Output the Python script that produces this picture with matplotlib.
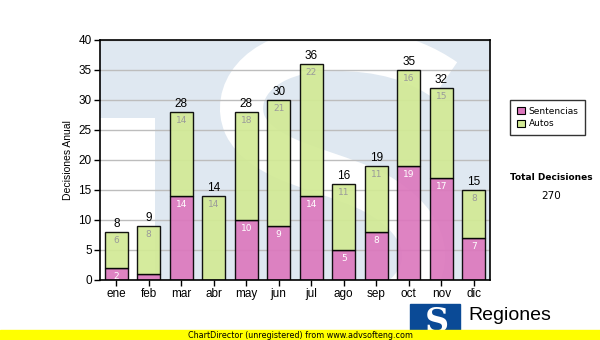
import matplotlib
matplotlib.use("Agg")
import matplotlib.pyplot as plt
import matplotlib.patches as mpatches
from matplotlib.path import Path
import numpy as np

months = ["ene", "feb", "mar", "abr", "may", "jun", "jul", "ago", "sep", "oct", "nov", "dic"]
sentencias = [2, 1, 14, 0, 10, 9, 14, 5, 8, 19, 17, 7]
autos = [6, 8, 14, 14, 18, 21, 22, 11, 11, 16, 15, 8]
yticks = [0, 5, 10, 15, 20, 25, 30, 35, 40]

W, H = 600, 340
fig = plt.figure(figsize=(W / 100, H / 100), dpi=100)
fig.patch.set_facecolor("white")

AX_L, AX_R, AX_T, AX_B = 100, 490, 40, 280
ax = fig.add_axes([AX_L / W, 1 - AX_B / H, (AX_R - AX_L) / W, (AX_B - AX_T) / H])
ax.set_facecolor("#dfe8f1")


def px2ax(px, py):
    return ((px - AX_L) / (AX_R - AX_L), (AX_B - py) / (AX_B - AX_T))


# watermark (approximate logo shapes): white gap under the T bar, white S stroke
ax.add_patch(mpatches.Rectangle((0, 0), 55 / 390, (280 - 118) / 240, transform=ax.transAxes,
                                color="white", zorder=0, lw=0))
pts_px = [(445, 80),
          (405, 52), (360, 48), (320, 50),
          (255, 55), (232, 95), (245, 125),
          (262, 160), (320, 168), (365, 188),
          (425, 215), (440, 262), (405, 295)]
codes = [Path.MOVETO] + [Path.CURVE4] * 12
verts = [px2ax(*p) for p in pts_px]
spath = Path(verts, codes)
ax.add_patch(mpatches.PathPatch(spath, transform=ax.transAxes, facecolor="none",
                                edgecolor="white", lw=31, capstyle="butt", zorder=0))

x = np.arange(len(months))
tot = [a + s for a, s in zip(autos, sentencias)]
ax.set_xlim(-0.5, len(months) - 0.5)
ax.set_ylim(0, 40)
ax.set_yticks(yticks)
ax.grid(axis="y", color="#bdbdbd", lw=1, zorder=1)
ax.set_axisbelow(True)

pink = "#dc78bd"
green = "#d2ea95"
ax.bar(x, sentencias, width=0.7, color=pink, edgecolor="black", lw=1, zorder=2, alpha=0.92)
ax.bar(x, autos, width=0.7, bottom=sentencias, color=green, edgecolor="black", lw=1, zorder=2, alpha=0.92)

for i in range(len(months)):
    ax.text(x[i], tot[i] + 0.3, str(tot[i]), ha="center", va="bottom", fontsize=8.5,
            family="Liberation Sans", color="black", zorder=3)
    if autos[i] > 0:
        ax.text(x[i], tot[i] - 0.6, str(autos[i]), ha="center", va="top", fontsize=6.5,
                family="DejaVu Sans", color="#9a9a9a", zorder=3)
    if sentencias[i] >= 2:
        ax.text(x[i], sentencias[i] - 0.6, str(sentencias[i]), ha="center", va="top", fontsize=6.5,
                family="DejaVu Sans", color="white", zorder=3)

ax.set_xticks(x)
ax.set_xticklabels(months, family="Liberation Sans", fontsize=8.5)
ax.set_yticklabels([str(v) for v in yticks], family="Liberation Sans", fontsize=8.5)
ax.tick_params(axis="both", length=4, width=1, color="black", pad=2)
for s in ax.spines.values():
    s.set_linewidth(1.2)
    s.set_color("black")
ax.set_ylabel("Decisiones Anual", family="Liberation Sans", fontsize=7.5, labelpad=4)

# legend
handles = [mpatches.Patch(facecolor=pink, edgecolor="black", lw=0.8, label="Sentencias"),
           mpatches.Patch(facecolor=green, edgecolor="black", lw=0.8, label="Autos")]
leg = fig.legend(handles=handles, loc="upper left", bbox_to_anchor=(510 / W, 1 - 100 / H),
                 prop={"family": "DejaVu Sans", "size": 6.5}, frameon=True, fancybox=False,
                 edgecolor="black", handlelength=0.9, handleheight=0.9, handletextpad=0.4,
                 borderpad=0.75, labelspacing=0.4, borderaxespad=0)
leg.get_frame().set_linewidth(1)

fig.text(551 / W, 1 - 177 / H, "Total Decisiones", ha="center", va="center", fontsize=6.5,
         fontweight="bold", family="DejaVu Sans")
fig.text(551 / W, 1 - 196 / H, "270", ha="center", va="center", fontsize=7.5, family="DejaVu Sans")

# logo
fig.patches.append(mpatches.Rectangle((410 / W, 0), 50 / W, 36 / H, transform=fig.transFigure,
                                      color="#0a4a96", zorder=1))
fig.text(437 / W, 1 - 322 / H, "S", ha="center", va="center", fontsize=24, fontweight="bold",
         family="DejaVu Serif", color="white", zorder=2)
fig.text(468 / W, 1 - 315 / H, "Regiones", ha="left", va="center", fontsize=14,
         family="Liberation Sans", color="black", zorder=2)
fig.text(468 / W, 1 - 335 / H, "Tribunal Supremo de Justicia", ha="left", va="center", fontsize=6,
         family="Liberation Sans", color="black", zorder=2)

# yellow footer bar
fig.patches.append(mpatches.Rectangle((0, 0), 1, 10 / H, transform=fig.transFigure,
                                      color="#ffff00", zorder=5))
fig.text(300 / W, 5 / H, "ChartDirector (unregistered) from www.advsofteng.com", ha="center",
         va="center", fontsize=5.8, family="DejaVu Sans", color="black", zorder=6)

fig.savefig("out.png", dpi=100)
